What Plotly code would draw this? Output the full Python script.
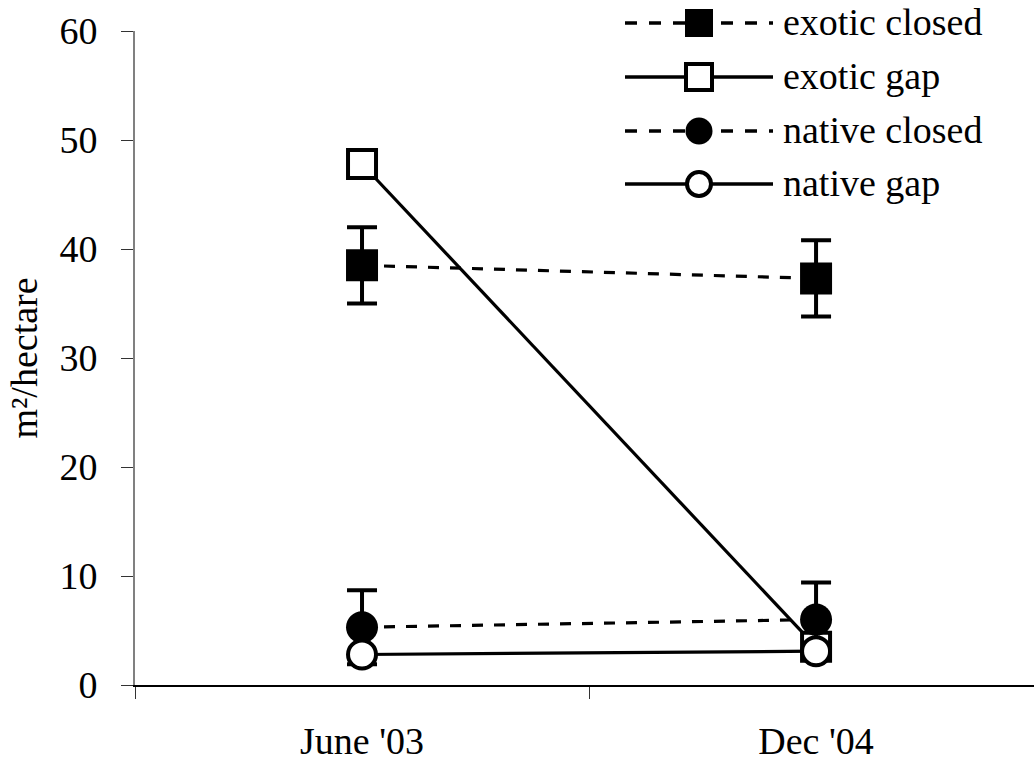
import plotly.graph_objects as go

categories = ["June '03", "Dec '04"]
exotic_closed = [38.5, 37.3]
exotic_closed_err = [3.5, 3.5]
exotic_gap = [47.8, 3.5]
native_closed = [5.3, 6.0]
native_closed_err = [3.4, 3.4]
native_gap = [2.8, 3.1]
series_names = ["exotic closed", "exotic gap", "native closed", "native gap"]
y_ticks = [0, 10, 20, 30, 40, 50, 60]

FONT = "Liberation Serif"
fig = go.Figure()

styles = [
    dict(dash="11px,11px", symbol="square", size=32, fill="black", lw=0),
    dict(dash="solid", symbol="square", size=28, fill="white", lw=4),
    dict(dash="11px,11px", symbol="circle", size=32, fill="black", lw=0),
    dict(dash="solid", symbol="circle", size=28, fill="white", lw=4),
]
values = [exotic_closed, exotic_gap, native_closed, native_gap]
errs = [exotic_closed_err, None, native_closed_err, None]

for name, vals, err, st in zip(series_names, values, errs, styles):
    fig.add_trace(go.Scatter(
        x=categories, y=vals, name=name, mode="lines+markers",
        line=dict(color="black", width=3.2, dash=st["dash"]),
        marker=dict(symbol=st["symbol"], size=st["size"], color=st["fill"],
                    line=dict(color="black", width=st["lw"])),
        error_y=(dict(type="data", array=err, visible=True, color="black",
                      thickness=4, width=15) if err else None),
        showlegend=False, cliponaxis=False,
    ))

# Custom legend (pixel-based layout)
L, R, T, B = 135, 1034, 31, 685
def px_x(p):
    return (p - L) / (R - L)
def px_y(p):
    return (B - p) / (B - T)

rows = [23, 77, 131, 184]
leg_half = [14, 13, 13.5, 12]
cx = 699
for name, st, ry, h in zip(series_names, styles, rows, leg_half):
    fig.add_shape(type="line", xref="paper", yref="paper",
                  x0=px_x(625), x1=px_x(773), y0=px_y(ry), y1=px_y(ry),
                  line=dict(color="black", width=3.5,
                            dash="12px,12px" if st["dash"] != "solid" else "solid"),
                  layer="above")
    fig.add_shape(type="rect" if st["symbol"] == "square" else "circle",
                  xref="paper", yref="paper",
                  x0=px_x(cx - h), x1=px_x(cx + h), y0=px_y(ry + h), y1=px_y(ry - h),
                  fillcolor=st["fill"],
                  line=dict(color="black", width=4 if st["lw"] else 0),
                  layer="above")
    fig.add_annotation(xref="paper", yref="paper", x=px_x(781), y=px_y(ry - 1),
                       text=name, showarrow=False, xanchor="left", yanchor="middle",
                       font=dict(family=FONT, size=38, color="black"))

fig.update_layout(
    width=1034, height=762,
    margin=dict(l=L, r=1034 - R, t=T, b=762 - B, autoexpand=False),
    paper_bgcolor="white", plot_bgcolor="white",
    font=dict(family=FONT, size=38, color="black"),
    xaxis=dict(type="category", range=[-0.5, 1.48], tickson="boundaries",
               ticks="outside", ticklen=12, tickwidth=1.2, tickcolor="#333",
               showline=True, linecolor="black", linewidth=1.5, automargin=False,
               showgrid=False, zeroline=False, ticklabelstandoff=22,
               tickfont=dict(family=FONT, size=38)),
    yaxis=dict(range=[0, 60], tickvals=y_ticks, ticks="outside", ticklen=12,
               tickwidth=1.2, tickcolor="#333", showline=True, linecolor="#808080",
               linewidth=2, showgrid=False, zeroline=False, ticklabelstandoff=16,
               automargin=False,
               title=dict(text="m²/hectare", standoff=10,
                          font=dict(family=FONT, size=38)),
               tickfont=dict(family=FONT, size=38)),
)

fig.write_html("out.html", config={"displayModeBar": False},
               post_script="document.body.style.margin='0';document.body.style.overflow='hidden';")
